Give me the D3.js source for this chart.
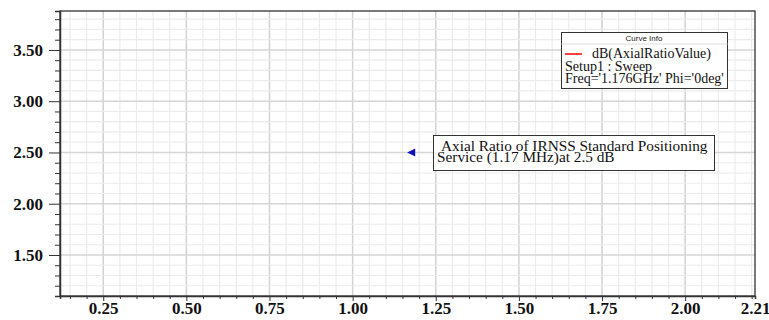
<!DOCTYPE html>
<html>
<head>
<meta charset="utf-8">
<script src="https://cdn.jsdelivr.net/npm/d3@7"></script>
<style>
  body { margin: 0; background: #fff; }
  svg { display: block; }
</style>
</head>
<body>
<svg id="chart" width="769" height="320"></svg>
<script>
// axis ranges and tick labels
const xDomain = [0.12, 2.21];
const yDomain = [1.1, 3.88];
const xLabels = [0.25, 0.50, 0.75, 1.00, 1.25, 1.50, 1.75, 2.00, 2.21];
const yLabels = [1.50, 2.00, 2.50, 3.00, 3.50];

// marker (annotation point)
const markerX = [1.17];
const markerY = [2.5];
const noteLines = ["Axial Ratio of IRNSS Standard Positioning", "Service (1.17 MHz)at 2.5 dB"];

// legend
const legendTitle = "Curve Info";
const legendCurve = "dB(AxialRatioValue)";
const legendInfo = ["Setup1 : Sweep", "Freq='1.176GHz' Phi='0deg'"];

const margin = {top: 11, right: 14, bottom: 24, left: 60};
const width = 769 - margin.left - margin.right;
const height = 320 - margin.top - margin.bottom;

const svg = d3.select('#chart');
const g = svg.append('g').attr('transform', `translate(${margin.left},${margin.top})`);

const x = d3.scaleLinear().domain(xDomain).range([0, width]);
const y = d3.scaleLinear().domain(yDomain).range([height, 0]);

const xMinor = d3.range(3, 45).map(i => +(i * 0.05).toFixed(2));
const yMinor = d3.range(12, 39).map(i => +(i * 0.1).toFixed(1));
const isMajorX = v => Math.abs(v / 0.25 - Math.round(v / 0.25)) < 1e-6;
const isMajorY = v => Math.abs(v / 0.5 - Math.round(v / 0.5)) < 1e-6;

// grid
g.append('g').selectAll('line').data(xMinor).enter().append('line')
    .attr('x1', d => x(d)).attr('x2', d => x(d))
    .attr('y1', 0).attr('y2', height)
    .attr('stroke', d => isMajorX(d) ? '#d2d2d2' : '#ececec')
    .attr('stroke-width', d => isMajorX(d) ? 1.5 : 1.2);
g.append('g').selectAll('line').data(yMinor).enter().append('line')
    .attr('x1', 0).attr('x2', width)
    .attr('y1', d => y(d)).attr('y2', d => y(d))
    .attr('stroke', d => isMajorY(d) ? '#d6d6d6' : '#ececec')
    .attr('stroke-width', d => isMajorY(d) ? 1.5 : 1.2);

// frame
g.append('rect').attr('width', width).attr('height', height)
    .attr('fill', 'none').attr('stroke', '#333').attr('stroke-width', 1.3);

const tickFont = '"Liberation Serif", "Times New Roman", serif';

// x axis
const xAxis = g.append('g').attr('transform', `translate(0,${height})`)
    .call(d3.axisBottom(x).tickValues(xMinor).tickSize(3).tickFormat(''));
xAxis.select('.domain').attr('stroke', '#333').attr('stroke-width', 1.5);
xAxis.selectAll('.tick line').attr('stroke', '#333')
    .attr('y2', d => isMajorX(d) ? 5 : 3);
const xLab = g.append('g').attr('transform', `translate(0,${height})`)
    .call(d3.axisBottom(x).tickValues(xLabels).tickSize(0).tickPadding(6).tickFormat(d3.format('.2f')));
xLab.select('.domain').remove();
xLab.selectAll('text').attr('font-family', tickFont)
    .attr('font-weight', 'bold').attr('font-size', 17).attr('fill', '#111');

// y axis
const yAxis = g.append('g')
    .call(d3.axisLeft(y).tickValues(yMinor).tickSize(5).tickFormat(''));
yAxis.select('.domain').attr('stroke', '#333').attr('stroke-width', 1.5);
yAxis.selectAll('.tick line').attr('stroke', '#333')
    .attr('x2', d => isMajorY(d) ? -11 : -5);
const yLab = g.append('g')
    .call(d3.axisLeft(y).tickValues(yLabels).tickSize(0).tickPadding(17).tickFormat(d3.format('.2f')));
yLab.select('.domain').remove();
yLab.selectAll('text').attr('font-family', tickFont)
    .attr('font-weight', 'bold').attr('font-size', 17).attr('fill', '#111');

// marker
g.selectAll('.marker').data(markerX).enter().append('path')
    .attr('class', 'marker')
    .attr('transform', (d, i) => `translate(${x(d)},${y(markerY[i])})`)
    .attr('d', 'M-2,0 L6,-4 L6,4 Z')
    .attr('fill', '#1010c0');

// annotation
const note = svg.append('g');
note.append('rect').attr('x', 433.5).attr('y', 135.5).attr('width', 281).attr('height', 35)
    .attr('fill', '#fff').attr('stroke', '#333').attr('stroke-width', 1);
note.selectAll('text').data(noteLines).enter().append('text')
    .attr('x', (d, i) => i === 0 ? 441 : 437)
    .attr('y', (d, i) => 151 + i * 11)
    .attr('font-family', tickFont)
    .attr('font-size', 15.3).attr('fill', '#111')
    .text(d => d);

// legend
const leg = svg.append('g');
leg.append('rect').attr('x', 561.5).attr('y', 32.5).attr('width', 166).attr('height', 56)
    .attr('fill', '#fff').attr('stroke', '#333').attr('stroke-width', 1);
leg.append('line').attr('x1', 561.5).attr('x2', 727.5).attr('y1', 44).attr('y2', 44)
    .attr('stroke', '#ddd');
leg.append('text').attr('x', 644).attr('y', 41).attr('text-anchor', 'middle')
    .attr('font-family', '"Liberation Sans", Arial, sans-serif').attr('font-size', 8)
    .attr('fill', '#222').text(legendTitle);
leg.append('line').attr('x1', 565).attr('x2', 582).attr('y1', 54).attr('y2', 54)
    .attr('stroke', '#ff0000').attr('stroke-width', 1.5);
leg.append('text').attr('x', 592).attr('y', 57.5)
    .attr('font-family', tickFont).attr('font-size', 14)
    .attr('fill', '#111').text(legendCurve);
leg.selectAll('.info').data(legendInfo).enter().append('text')
    .attr('class', 'info')
    .attr('x', 565).attr('y', (d, i) => 70.5 + i * 12.5)
    .attr('font-family', tickFont).attr('font-size', 14)
    .attr('fill', '#111').text(d => d);
</script>
</body>
</html>
